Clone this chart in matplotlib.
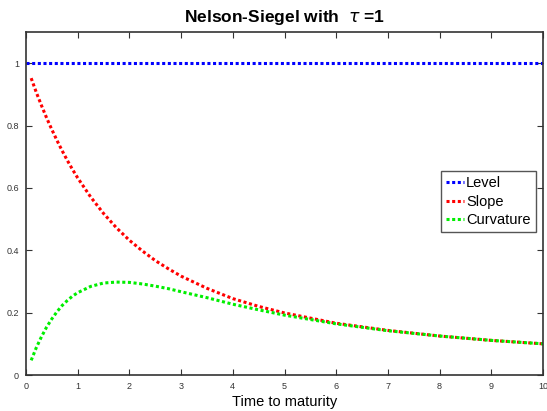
import numpy as np
import matplotlib
matplotlib.use('Agg')
import matplotlib.pyplot as plt

plt.rcParams['font.family'] = ['Liberation Sans', 'DejaVu Sans']

# maturities and factor loadings
maturity = [0.1, 0.2, 0.3, 0.4, 0.5, 0.6, 0.7, 0.8, 0.9, 1.0, 1.25, 1.5, 1.75, 2.0,
            2.25, 2.5, 2.75, 3.0, 3.5, 4.0, 4.5, 5.0, 6.0, 7.0, 8.0, 9.0, 10.0]
level = [1.0] * len(maturity)
slope = [0.952, 0.906, 0.864, 0.824, 0.787, 0.752, 0.719, 0.688, 0.659, 0.632, 0.571,
         0.518, 0.472, 0.432, 0.398, 0.367, 0.341, 0.317, 0.278, 0.245, 0.220, 0.199,
         0.166, 0.143, 0.125, 0.111, 0.100]
curvature = [0.047, 0.088, 0.123, 0.154, 0.180, 0.203, 0.223, 0.239, 0.253, 0.264, 0.284,
             0.295, 0.298, 0.297, 0.292, 0.285, 0.277, 0.267, 0.248, 0.227, 0.209, 0.192,
             0.164, 0.142, 0.125, 0.111, 0.100]

fig = plt.figure(figsize=(5.47, 4.11), dpi=100)
ax = fig.add_axes([26 / 547, 1 - 375 / 411, 517 / 547, 343 / 411])

dots = (0, (1, 0.85))
lw = 2.2
ax.plot([0] + maturity, [1.0] + level, color='blue', linestyle=dots, linewidth=lw, label='Level')
ax.plot(maturity, slope, color='red', linestyle=dots, linewidth=lw, label='Slope')
ax.plot(maturity, curvature, color='#00ee00', linestyle=dots, linewidth=lw, label='Curvature')

ax.set_xlim(0, 10)
ax.set_ylim(0, 1.1)
ax.set_xticks(range(11))
ax.set_yticks([0, 0.2, 0.4, 0.6, 0.8, 1])
ax.set_yticklabels(['0', '0.2', '0.4', '0.6', '0.8', '1'])
ax.tick_params(direction='in', top=True, right=True, labelsize=6.5, length=4, pad=5,
               colors='#333333')
for s in ax.spines.values():
    s.set_color('#333333')
    s.set_linewidth(1.2)

ax.set_title(r'Nelson-Siegel with  $\tau$ =1', fontsize=12.5, fontweight='bold', pad=7)
ax.set_xlabel('Time to maturity', fontsize=10.5, labelpad=3)

leg = ax.legend(loc='center right', bbox_to_anchor=(1.0, 0.505), fontsize=10.5,
                handlelength=1.2, handletextpad=0.15, borderpad=0.35, labelspacing=0.3,
                fancybox=False, framealpha=1, edgecolor='#555555')

fig.savefig('out.png', dpi=100)
